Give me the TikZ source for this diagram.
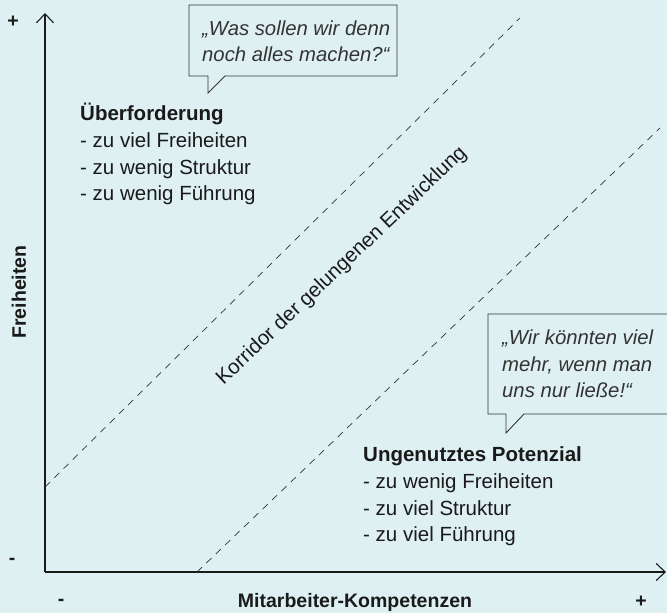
\documentclass[tikz,border=0pt]{standalone}
\usepackage{fontspec}
\setmainfont{Liberation Sans}
\usepackage{tikz}
\usetikzlibrary{arrows.meta,calc,positioning}
\definecolor{bgblue}{HTML}{DFF0F3}
\definecolor{inkdark}{HTML}{1A1A1A}
\definecolor{inkgrey}{HTML}{333333}
\tikzset{
  axis/.style={-{Straight Barb[length=9pt,width=17pt]},line width=1.1pt,draw=inkdark},
  corridor/.style={dash pattern=on 7pt off 6pt,line width=0.7pt,draw=inkgrey},
  bubble/.style={draw=inkgrey,line width=0.9pt,fill=bgblue,line join=miter},
  quotetxt/.style={font=\fontsize{20.3}{26.7}\selectfont\itshape,text=inkgrey,align=left,anchor=base west,inner sep=0pt},
  blocktxt/.style={font=\fontsize{20.5}{26.7}\selectfont,text=inkdark,align=left,anchor=base west,inner sep=0pt},
  axlabel/.style={font=\fontsize{19.5}{22}\selectfont\bfseries,text=inkdark,inner sep=0pt},
  every node/.style={font=\small}
}

\begin{document}
\begin{tikzpicture}[x=1pt,y=1pt]
\fill[bgblue] (0,0) rectangle (667,613);
\useasboundingbox (0,0) rectangle (667,613);
\clip (0,0) rectangle (667,613);
% axes
\coordinate (O) at (45,41);
\coordinate (ytop) at (45,600);
\coordinate (xend) at (666,41);
\draw[axis] (O) -- (ytop);
\draw[axis] (O) -- (xend);
% corridor borders
\coordinate (upA) at (45,126);
\coordinate (upB) at (520,595);
\coordinate (loA) at (197,41);
\coordinate (loB) at (660,485);
\draw[corridor] (upA) -- (upB);
\draw[corridor] (loA) -- (loB);
\node[font=\fontsize{20.5}{22}\selectfont,text=inkdark,rotate=43.5] (korridor) at (342,347)
  {Korridor der gelungenen Entwicklung};
% axis labels
\node[axlabel] (yplus) at (13,591) {+};
\node[axlabel] (yminus) at (12,52) {-};
\node[axlabel] (xminus) at (61,11) {-};
\node[axlabel] (xplus) at (641,11) {+};
\node[axlabel] (xlabel) at (355,11) {Mitarbeiter-Kompetenzen};
\node[axlabel,rotate=90] (ylabel) at (19,321) {Freiheiten};
% speech bubble top
\draw[bubble] (189,608) -- (397,608) -- (397,537) -- (225,537) -- (208,520)
  -- (208,537) -- (189,537) -- cycle;
\node[quotetxt] (quoteA) at (202,551)
  {„Was sollen wir denn\\noch alles machen?“};
% speech bubble right
\draw[bubble] (488,299) -- (690,299) -- (690,199) -- (524,199) -- (506,180)
  -- (506,199) -- (488,199) -- cycle;
\node[quotetxt] (quoteB) at (502,215)
  {„Wir könnten viel\\mehr, wenn man\\uns nur ließe!“};
% the two zones
\node[blocktxt] (over) at (80,412)
  {\textbf{Überforderung}\\- zu viel Freiheiten\\- zu wenig Struktur\\- zu wenig Führung};
\node[blocktxt] (unter) at (363,71)
  {\textbf{Ungenutztes Potenzial}\\- zu wenig Freiheiten\\- zu viel Struktur\\- zu viel Führung};
\end{tikzpicture}
\end{document}
